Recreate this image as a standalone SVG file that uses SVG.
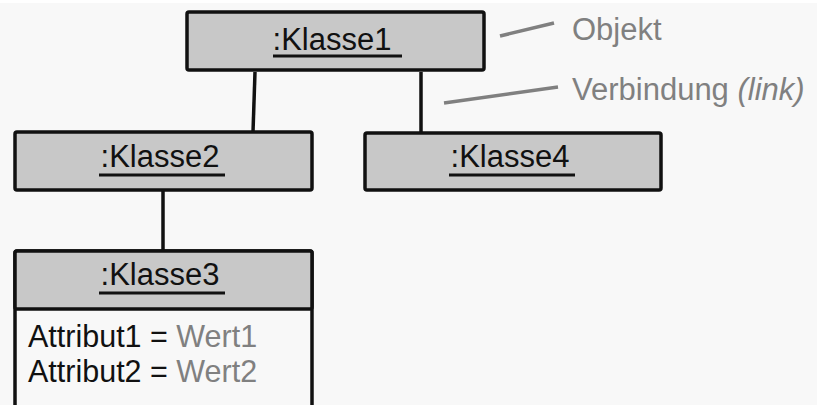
<svg xmlns="http://www.w3.org/2000/svg" width="817" height="405" viewBox="0 0 817 405">
  <style>
    .box { fill: #c8c8c8; stroke: #111; stroke-width: 3.5; }
    .body { fill: #f8f8f8; stroke: #111; stroke-width: 3.5; }
    .name { font-family: "Liberation Sans", Arial, sans-serif; font-size: 31px; fill: #111; text-anchor: middle; }
    .uline { stroke: #111; stroke-width: 3; }
    .attr { font-family: "Liberation Sans", Arial, sans-serif; font-size: 30.5px; fill: #111; }
    .val { fill: #808080; }
    .link { stroke: #111; stroke-width: 3.5; fill: none; }
    .note { stroke: #808080; stroke-width: 3.5; fill: none; }
    .noteText { font-family: "Liberation Sans", Arial, sans-serif; font-size: 31px; fill: #808080; }
  </style>
  <rect x="0" y="0" width="817" height="405" fill="#f8f8f8"/>
  <rect x="0" y="0" width="817" height="3" fill="#ffffff"/>

  <!-- links between objects -->
  <g id="connectors">
    <line class="link" x1="255" y1="72" x2="253" y2="132"/>
    <line class="link" x1="421" y1="72" x2="421" y2="133"/>
    <line class="link" x1="163" y1="191" x2="163" y2="251"/>
  </g>

  <g id="klasse1">
    <rect class="box" x="187" y="12" width="297" height="58" rx="2"/>
    <text class="name" x="332" y="50">:Klasse1</text>
    <line class="uline" x1="273" y1="56" x2="402" y2="56"/>
  </g>

  <g id="klasse2">
    <rect class="box" x="15" y="132" width="297" height="58" rx="2"/>
    <text class="name" x="160" y="167">:Klasse2</text>
    <line class="uline" x1="99" y1="175" x2="225" y2="175"/>
  </g>

  <g id="klasse4">
    <rect class="box" x="365" y="133" width="296" height="57" rx="2"/>
    <text class="name" x="510" y="167">:Klasse4</text>
    <line class="uline" x1="449" y1="175" x2="575" y2="175"/>
  </g>

  <g id="klasse3">
    <rect class="body" x="15" y="251" width="297" height="175" rx="2"/>
    <rect class="box" x="15" y="251" width="297" height="58" rx="2"/>
    <text class="name" x="160" y="285">:Klasse3</text>
    <line class="uline" x1="99" y1="293" x2="225" y2="293"/>
    <text class="attr" x="28" y="347">Attribut1 = <tspan class="val">Wert1</tspan></text>
    <text class="attr" x="28" y="382">Attribut2 = <tspan class="val">Wert2</tspan></text>
  </g>

  <!-- legend callouts -->
  <g id="legend">
    <line class="note" x1="500" y1="36" x2="554" y2="23"/>
    <text class="noteText" x="572" y="40">Objekt</text>
    <line class="note" x1="444" y1="103" x2="558" y2="87"/>
    <text class="noteText" x="572" y="100">Verbindung <tspan font-style="italic">(link)</tspan></text>
  </g>
</svg>
